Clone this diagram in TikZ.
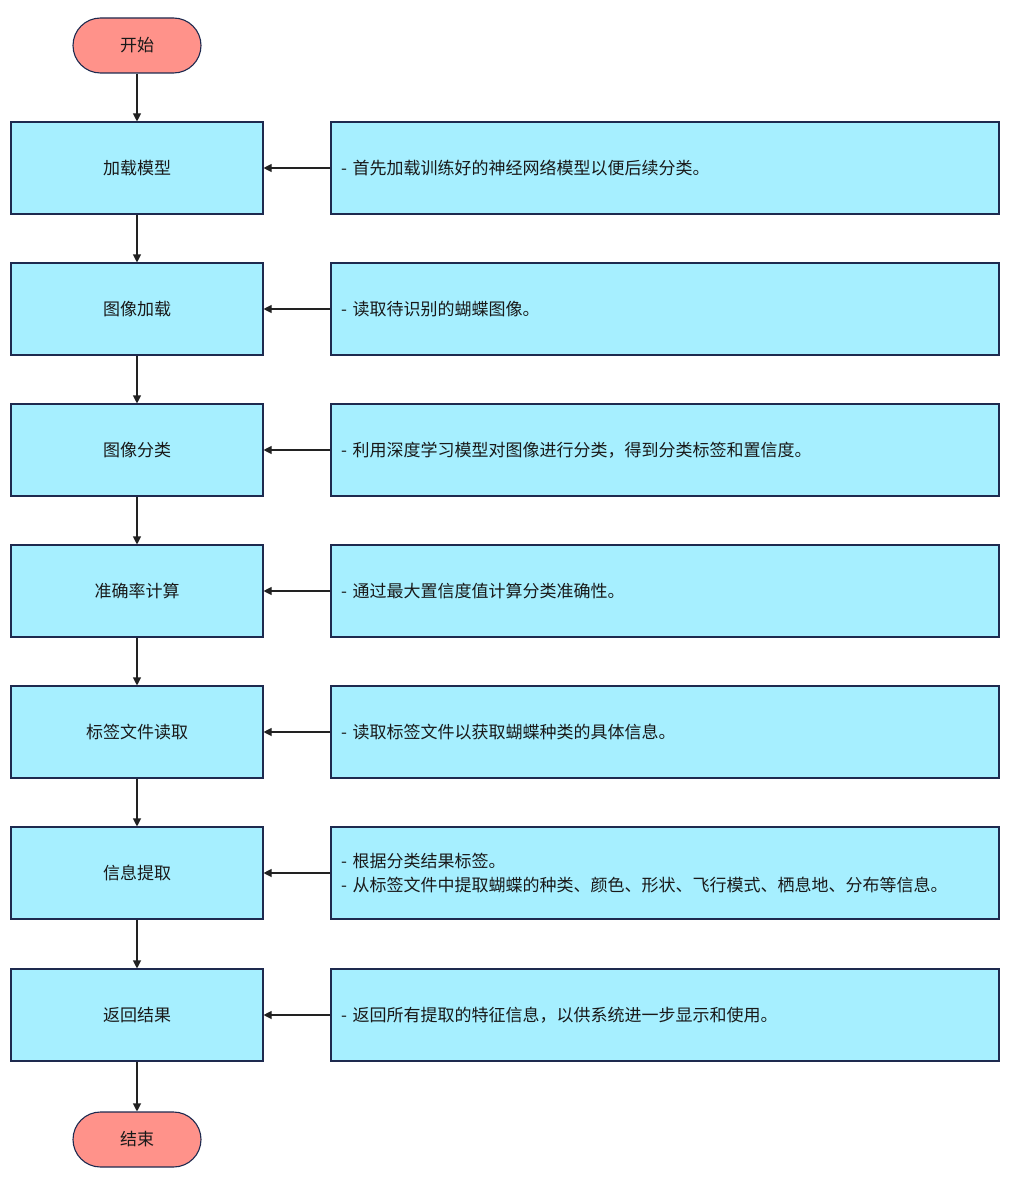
\documentclass[tikz,border=0pt]{standalone}
\usepackage{fontspec}
\setmainfont{Noto Sans CJK SC}
\usetikzlibrary{arrows.meta}
\definecolor{pillfill}{HTML}{FF928A}
\definecolor{boxfill}{HTML}{A6EFFF}
\definecolor{edge}{HTML}{1E2A4F}
\definecolor{arrowc}{HTML}{222222}
\tikzset{
  pill/.style={draw=edge, fill=pillfill, line width=1.1pt, rounded corners=27.5pt,
    minimum width=128pt, minimum height=55pt, inner sep=0pt, font=\fontsize{17}{20}\selectfont, text=black!90},
  stepbox/.style={draw=edge, fill=boxfill, line width=1.1pt,
    minimum width=252pt, minimum height=92pt, inner sep=0pt, font=\fontsize{17}{20}\selectfont, text=black!90},
  notebox/.style={draw=edge, fill=boxfill, line width=1.1pt,
    minimum height=92pt, inner xsep=10pt, inner ysep=0pt, text width=648pt, align=left,
    font=\fontsize{17}{24}\selectfont, text=black!90},
  conn/.style={draw=arrowc, line width=1.1pt, -{Triangle[length=8pt,width=8pt]}}
}
\begin{document}
\begin{tikzpicture}[x=1pt,y=-1pt]
\useasboundingbox (0,0) rectangle (1014,1188);
\node[pill] (start) at (137,45.5) {开始};
\node[stepbox] (b1) at (137,168) {加载模型};
\node[stepbox] (b2) at (137,309) {图像加载};
\node[stepbox] (b3) at (137,450) {图像分类};
\node[stepbox] (b4) at (137,591) {准确率计算};
\node[stepbox] (b5) at (137,732) {标签文件读取};
\node[stepbox] (b6) at (137,873) {信息提取};
\node[stepbox] (b7) at (137,1015) {返回结果};
\node[pill] (end) at (137,1139.5) {结束};
\node[notebox] (r1) at (665,168) {- 首先加载训练好的神经网络模型以便后续分类。};
\node[notebox] (r2) at (665,309) {- 读取待识别的蝴蝶图像。};
\node[notebox] (r3) at (665,450) {- 利用深度学习模型对图像进行分类，得到分类标签和置信度。};
\node[notebox] (r4) at (665,591) {- 通过最大置信度值计算分类准确性。};
\node[notebox] (r5) at (665,732) {- 读取标签文件以获取蝴蝶种类的具体信息。};
\node[notebox] (r6) at (665,873) {- 根据分类结果标签。\\- 从标签文件中提取蝴蝶的种类、颜色、形状、飞行模式、栖息地、分布等信息。};
\node[notebox] (r7) at (665,1015) {- 返回所有提取的特征信息，以供系统进一步显示和使用。};
\draw[conn] (start) -- (b1);
\draw[conn] (b1) -- (b2);
\draw[conn] (b2) -- (b3);
\draw[conn] (b3) -- (b4);
\draw[conn] (b4) -- (b5);
\draw[conn] (b5) -- (b6);
\draw[conn] (b6) -- (b7);
\draw[conn] (b7) -- (end);
\foreach \i in {1,...,7} { \draw[conn] (r\i.west) -- (b\i.east); }
\end{tikzpicture}
\end{document}
